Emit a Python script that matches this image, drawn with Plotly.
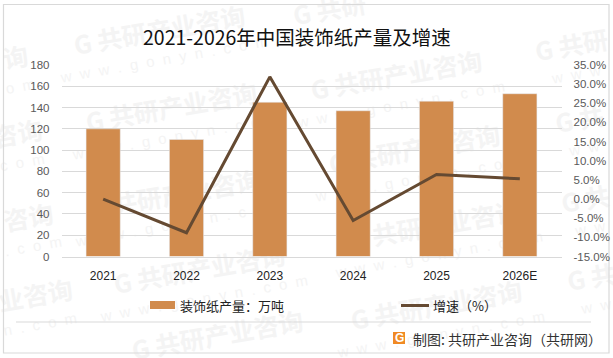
import plotly.graph_objects as go

years = ["2021", "2022", "2023", "2024", "2025", "2026E"]
output = [120, 110, 145, 137, 146, 153]
growth = [0.0, -8.8, 31.9, -5.6, 6.4, 5.3]
left_ticks = [0, 20, 40, 60, 80, 100, 120, 140, 160, 180]
right_ticks = [-15, -10, -5, 0, 5, 10, 15, 20, 25, 30, 35]
right_labels = ["-15.0%", "-10.0%", "-5.0%", "0.0%", "5.0%", "10.0%", "15.0%", "20.0%", "25.0%", "30.0%", "35.0%"]

W, H = 613, 358
BAR = "#D18B4D"
LINE = "#654A32"
GRID = "#D9D9D9"
TICK = "#595959"
WM = "#F4F4F4"
FONT = "Noto Sans CJK SC"
L, R, T, B = 61.5, 561.5, 65, 256.5

def px(x): return x / W
def py(y): return 1 - y / H

fig = go.Figure()
fig.add_bar(x=years, y=output, name="装饰纸产量：万吨", marker_color=BAR, width=0.41, yaxis="y")
fig.add_scatter(x=years, y=growth, name="增速（%）", mode="lines",
                line=dict(color=LINE, width=3), yaxis="y2")

FULL = "G 共研产业咨询"
SUB = "w  w  w  .  g  o  n  y  n  .  c  o  m"
# watermark: centre x, centre y, text, sub-line text
wm = [(160, 33, FULL, SUB), (172, 110, FULL, SUB), (397, 78, FULL, SUB),
      (175, 197, FULL, SUB), (200, 272, FULL, SUB), (218, 338, FULL, ""),
      (415, 152, FULL, SUB), (435, 228, FULL, SUB), (437, 308, FULL, SUB),
      (16, 60, "询", "o  m"), (18, 136, "咨询", "c  o  m"), (29, 220, "咨询", ".  c  o  m"), (36, 298, "业咨询", "n  .  c  o  m"),
      (572, 48, "G 共研", "w  w  w"), (580, 122, "G 共", "w  w"), (586, 202, "G 共", "w  w"), (592, 280, "G 共", "w  w"),
      (330, 12, "G 共研", "")]
shapes = []
for cx, cy, main, sub in wm:
    for dx, dy, txt, fam, size in [(0, 0, f"<b>{main}</b>", FONT, 25),
                                   (4, 25, sub, "Liberation Sans", 15)]:
        if not sub and dy:
            continue
        shapes.append(dict(type="rect", xref="paper", yref="paper", layer="below",
                           x0=px(cx + dx - 2), x1=px(cx + dx + 2), y0=py(cy + dy + 2), y1=py(cy + dy - 2),
                           line=dict(width=0), fillcolor="rgba(0,0,0,0)",
                           label=dict(text=txt, textangle=-10, textposition="middle center",
                                      font=dict(family=fam, size=size, color=WM))))

shapes += [
    dict(type="rect", x0=px(3.5), x1=px(609), y0=py(4.5), y1=py(353), xref="paper", yref="paper",
         line=dict(color="#D9D9D9", width=1.2), fillcolor="rgba(0,0,0,0)", layer="below"),
    dict(type="line", x0=px(16), x1=px(591), y0=py(322), y1=py(322), xref="paper", yref="paper",
         line=dict(color="#D9D9D9", width=1)),
    dict(type="rect", x0=px(150), x1=px(175), y0=py(301), y1=py(309), xref="paper", yref="paper",
         line=dict(width=0), fillcolor=BAR),
    dict(type="line", x0=px(401), x1=px(429), y0=py(305.5), y1=py(305.5), xref="paper", yref="paper",
         line=dict(color=LINE, width=3)),
    dict(type="rect", x0=px(393), x1=px(405), y0=py(332), y1=py(344), xref="paper", yref="paper",
         line=dict(width=0), fillcolor="#F08A24"),
]

ann = []
def label(x, y, text, size, color, anchor="left", family=FONT):
    ann.append(dict(x=px(x), y=py(y), xref="paper", yref="paper", showarrow=False, text=text,
                    xanchor=anchor, yanchor="middle", font=dict(family=family, size=size, color=color)))

label(297, 36, "2021-2026年中国装饰纸产量及增速", 19.5, "#111111", "center")
label(178, 305, "装饰纸产量：万吨", 13, "#222222")
label(431, 305, "增速（%）", 13, "#222222")
label(411, 339, "制图: 共研产业咨询（共研网）", 14, "#333333")
label(399, 338, "<b>G</b>", 12, "#FFFFFF", "center", "Liberation Sans")

fig.update_layout(
    annotations=ann, shapes=shapes,
    width=W, height=H, autosize=False, showlegend=False, plot_bgcolor="rgba(0,0,0,0)", paper_bgcolor="white",
    margin=dict(l=0, r=0, t=0, b=0),
    xaxis=dict(domain=[px(L), px(R)], tickfont=dict(family="Liberation Sans", size=12, color="#222222"),
               showgrid=False, showline=True, linecolor=GRID, ticks="", anchor="y", ticklabelstandoff=8,
               automargin=False),
    yaxis=dict(domain=[py(B), py(T)], range=[0, 180], tickvals=left_ticks, showgrid=True, gridcolor=GRID,
               gridwidth=1, zeroline=False, tickfont=dict(family="Liberation Sans", size=11.5, color=TICK),
               ticks="", ticklabelstandoff=11, automargin=False),
    yaxis2=dict(domain=[py(B), py(T)], range=[-15, 35], tickvals=right_ticks, ticktext=right_labels,
                overlaying="y", side="right", anchor="x", showgrid=False, zeroline=False,
                tickfont=dict(family="Liberation Sans", size=11.5, color=TICK), ticks="", ticklabelstandoff=11,
                automargin=False),
)
fig.write_html("out.html", config=dict(displayModeBar=False),
               post_script="document.body.style.margin='0';document.body.style.overflow='hidden';")
